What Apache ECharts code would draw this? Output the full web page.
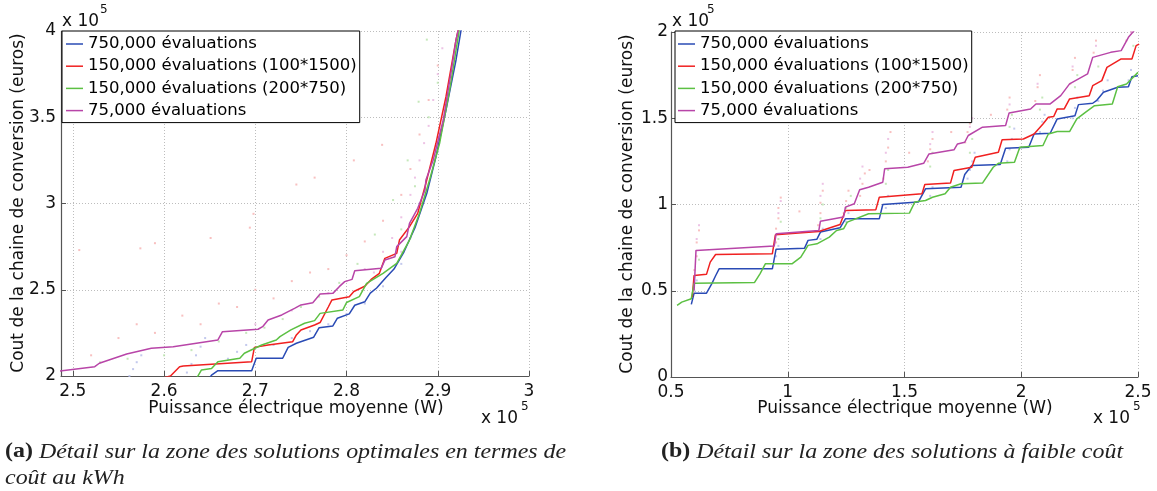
<!DOCTYPE html>
<html><head><meta charset="utf-8">
<script src="https://cdn.jsdelivr.net/npm/echarts@6/dist/echarts.min.js"></script>
<style>html,body{margin:0;padding:0;background:#fff}#c{width:1157px;height:491px}</style>
</head><body><div id="c"></div>
<script>
// ---- names / labels ----
const seriesNames = ['750,000 évaluations','150,000 évaluations (100*1500)','150,000 évaluations (200*750)','75,000 évaluations'];
const xTitle = 'Puissance électrique moyenne (W)';
const yTitle = 'Cout de la chaine de conversion (euros)';
const multText = 'x 10';
const multExp = '5';
const captionA1 = 'Détail sur la zone des solutions optimales en termes de';
const captionA2 = 'coût au kWh';
const captionB = 'Détail sur la zone des solutions à faible coût';

// ---- data (units of 10^5) : chart (a) ----
const aBlue = [[2.650,1.99],[2.652,2.005],[2.659,2.031],[2.696,2.031],[2.701,2.103],[2.730,2.103],[2.736,2.166],[2.745,2.19],[2.764,2.225],[2.770,2.28],[2.785,2.29],[2.790,2.335],[2.803,2.36],[2.809,2.41],[2.820,2.43],[2.826,2.48],[2.833,2.51],[2.843,2.57],[2.852,2.62],[2.863,2.72],[2.875,2.86],[2.888,3.059],[2.898,3.271],[2.909,3.542],[2.920,3.832],[2.926,4.02]];
const aRed = [[2.600,1.99],[2.607,2.0],[2.617,2.054],[2.621,2.058],[2.696,2.083],[2.699,2.166],[2.714,2.180],[2.741,2.199],[2.745,2.238],[2.750,2.267],[2.765,2.296],[2.771,2.31],[2.780,2.40],[2.784,2.441],[2.803,2.460],[2.808,2.49],[2.820,2.52],[2.827,2.56],[2.836,2.595],[2.842,2.682],[2.855,2.711],[2.858,2.788],[2.869,2.866],[2.878,2.943],[2.887,3.117],[2.898,3.349],[2.909,3.619],[2.920,3.948],[2.923,4.02]];
const aGreen = [[2.636,1.99],[2.637,2.0],[2.641,2.035],[2.652,2.044],[2.659,2.083],[2.683,2.103],[2.688,2.132],[2.707,2.180],[2.723,2.209],[2.727,2.228],[2.739,2.267],[2.754,2.306],[2.765,2.321],[2.771,2.363],[2.796,2.383],[2.800,2.426],[2.814,2.460],[2.822,2.537],[2.840,2.595],[2.855,2.653],[2.869,2.788],[2.880,2.943],[2.891,3.136],[2.902,3.349],[2.913,3.658],[2.924,4.02]];
const aMagenta = [[2.485,2.029],[2.524,2.054],[2.529,2.074],[2.559,2.128],[2.586,2.161],[2.610,2.170],[2.612,2.180],[2.659,2.209],[2.664,2.257],[2.703,2.271],[2.708,2.286],[2.714,2.325],[2.729,2.354],[2.743,2.392],[2.750,2.412],[2.763,2.425],[2.771,2.475],[2.785,2.479],[2.792,2.518],[2.798,2.547],[2.806,2.56],[2.809,2.61],[2.838,2.624],[2.842,2.672],[2.853,2.691],[2.855,2.750],[2.866,2.808],[2.869,2.885],[2.878,2.972],[2.886,3.078],[2.887,3.136],[2.895,3.252],[2.906,3.484],[2.915,3.774],[2.920,3.948],[2.923,4.02]];
// faint population dots (a)
const aDotsRed = [[2.507,2.73],[2.574,2.74],[2.590,2.77],[2.651,2.80],[2.694,2.86],[2.698,2.94],[2.745,3.11],[2.765,3.15],[2.808,3.25],[2.839,3.34],[2.52,2.12],[2.55,2.22],[2.57,2.30],[2.59,2.25],[2.62,2.35],[2.64,2.30],[2.66,2.42],[2.68,2.40],[2.70,2.50],[2.72,2.45],[2.74,2.55],[2.76,2.60],[2.78,2.62],[2.80,2.70],[2.82,2.78],[2.84,2.90],[2.86,3.05],[2.87,3.20],[2.88,3.40],[2.89,3.60],[2.90,3.80]];
const aDotsGreen = [[2.888,3.95],[2.879,3.59],[2.867,3.25],[2.851,3.02],[2.831,2.82],[2.812,2.65],[2.792,2.54],[2.77,2.46],[2.75,2.40],[2.73,2.33],[2.71,2.28],[2.69,2.25],[2.66,2.20],[2.63,2.15],[2.60,2.12],[2.56,2.10],[2.53,2.08],[2.86,2.85],[2.875,3.1],[2.89,3.5],[2.90,3.7]];
const aDotsBlue = [[2.562,2.00],[2.566,2.04],[2.570,2.08],[2.575,2.12],[2.625,2.02],[2.630,2.07],[2.635,2.12],[2.640,2.17],[2.645,2.22],[2.67,2.10],[2.68,2.14],[2.69,2.18],[2.72,2.18],[2.74,2.22],[2.76,2.26],[2.78,2.30],[2.80,2.36],[2.82,2.42],[2.84,2.52],[2.86,2.65],[2.87,2.80],[2.88,3.0],[2.90,3.3]];
const aDotsMagenta = [[2.80,2.55],[2.82,2.62],[2.84,2.72],[2.85,2.80],[2.86,2.92],[2.87,3.05],[2.875,3.15],[2.88,3.25],[2.885,3.35],[2.89,3.45],[2.895,3.6],[2.90,3.75],[2.905,3.9],[2.86,2.72],[2.83,2.60],[2.78,2.48],[2.74,2.38],[2.70,2.30]];

// ---- data (units of 10^5) : chart (b) ----
const bBlue = [[0.587,0.421],[0.599,0.486],[0.652,0.486],[0.675,0.541],[0.691,0.587],[0.706,0.627],[0.934,0.627],[0.950,0.741],[1.072,0.747],[1.087,0.792],[1.125,0.799],[1.140,0.840],[1.224,0.865],[1.247,0.917],[1.392,0.917],[1.407,1.000],[1.559,1.014],[1.590,1.091],[1.742,1.100],[1.758,1.174],[1.788,1.226],[1.910,1.232],[1.933,1.326],[2.032,1.332],[2.055,1.409],[2.124,1.413],[2.154,1.496],[2.230,1.515],[2.245,1.579],[2.306,1.587],[2.322,1.602],[2.352,1.651],[2.413,1.680],[2.459,1.683],[2.474,1.741],[2.500,1.747]];
const bRed = [[0.591,0.463],[0.599,0.589],[0.652,0.595],[0.668,0.666],[0.691,0.710],[0.934,0.714],[0.947,0.824],[1.133,0.843],[1.224,0.884],[1.247,0.965],[1.377,0.969],[1.392,1.042],[1.575,1.062],[1.587,1.116],[1.697,1.124],[1.712,1.197],[1.788,1.216],[1.803,1.274],[1.902,1.303],[1.918,1.375],[2.009,1.380],[2.055,1.409],[2.093,1.467],[2.116,1.506],[2.139,1.510],[2.154,1.554],[2.184,1.554],[2.207,1.612],[2.291,1.631],[2.306,1.689],[2.345,1.718],[2.367,1.795],[2.428,1.844],[2.474,1.844],[2.492,1.921],[2.505,1.930]];
const bGreen = [[0.526,0.415],[0.546,0.434],[0.587,0.454],[0.599,0.544],[0.858,0.548],[0.881,0.598],[0.904,0.656],[1.018,0.656],[1.056,0.695],[1.087,0.763],[1.125,0.772],[1.178,0.811],[1.209,0.849],[1.239,0.859],[1.255,0.898],[1.346,0.946],[1.521,0.950],[1.544,1.014],[1.590,1.023],[1.620,1.042],[1.674,1.062],[1.697,1.100],[1.742,1.120],[1.834,1.124],[1.880,1.216],[1.902,1.239],[1.971,1.245],[1.994,1.332],[2.093,1.342],[2.116,1.409],[2.154,1.423],[2.207,1.423],[2.238,1.496],[2.276,1.535],[2.314,1.573],[2.390,1.583],[2.413,1.683],[2.451,1.699],[2.500,1.766]];
const bMagenta = [[0.599,0.502],[0.607,0.734],[0.611,0.737],[0.942,0.759],[0.950,0.830],[1.133,0.849],[1.140,0.903],[1.239,0.927],[1.247,0.985],[1.285,1.004],[1.308,1.085],[1.346,1.100],[1.407,1.129],[1.415,1.207],[1.514,1.216],[1.582,1.239],[1.605,1.293],[1.712,1.317],[1.727,1.351],[1.758,1.361],[1.773,1.400],[1.834,1.448],[1.933,1.458],[1.948,1.531],[2.040,1.554],[2.063,1.583],[2.124,1.583],[2.169,1.631],[2.207,1.699],[2.284,1.757],[2.306,1.853],[2.383,1.882],[2.428,1.892],[2.459,1.969],[2.489,2.017]];
// faint population dots (b)
const bDotsRed = [[0.60,0.62],[0.61,0.70],[0.61,0.78],[0.62,0.85],[0.95,0.78],[0.95,0.86],[0.96,0.92],[0.96,0.98],[0.97,1.04],[1.13,0.88],[1.14,0.95],[1.14,1.01],[1.15,1.08],[1.24,0.95],[1.25,1.02],[1.26,1.08],[1.31,1.05],[1.32,1.12],[1.33,1.18],[1.41,1.15],[1.42,1.25],[1.43,1.33],[1.44,1.42],[1.60,1.25],[1.61,1.32],[1.62,1.38],[1.76,1.36],[1.77,1.42],[1.78,1.47],[1.94,1.55],[1.95,1.62],[2.06,1.60],[2.07,1.68],[2.08,1.75],[2.21,1.70],[2.22,1.78],[2.23,1.85],[2.31,1.88],[2.32,1.95],[2.45,1.95],[2.47,2.0],[1.87,1.52],[1.70,1.42],[1.52,1.30],[1.35,1.20],[1.05,0.96]];
const bDotsGreen = [[0.60,0.58],[0.62,0.68],[0.96,0.80],[0.97,0.90],[1.14,0.92],[1.15,1.00],[1.25,0.98],[1.27,1.05],[1.42,1.12],[1.43,1.20],[1.61,1.22],[1.62,1.30],[1.78,1.30],[1.79,1.38],[1.95,1.45],[1.96,1.52],[2.08,1.55],[2.09,1.62],[2.23,1.68],[2.24,1.75],[2.33,1.80],[2.48,1.92]];
const bDotsBlue = [[0.60,0.50],[0.61,0.56],[0.95,0.70],[0.96,0.76],[1.14,0.80],[1.15,0.86],[1.25,0.90],[1.26,0.95],[1.42,0.98],[1.43,1.05],[1.61,1.05],[1.62,1.10],[1.77,1.15],[1.78,1.20],[1.79,1.25],[1.80,1.30],[1.94,1.25],[1.95,1.32],[1.96,1.38],[1.97,1.44],[2.08,1.42],[2.09,1.48],[2.10,1.52],[2.22,1.50],[2.23,1.56],[2.24,1.62],[2.33,1.60],[2.35,1.66],[2.37,1.72],[2.46,1.72],[2.47,1.78]];
const bDotsMagenta = [[0.61,0.80],[0.62,0.88],[0.96,0.95],[0.97,1.02],[1.14,1.05],[1.15,1.12],[1.31,1.15],[1.32,1.22],[1.42,1.30],[1.43,1.38],[1.61,1.35],[1.62,1.42],[1.78,1.45],[1.79,1.50],[1.95,1.58],[2.07,1.70],[2.22,1.80],[2.32,1.92],[2.47,2.0]];

// ---- styles ----
const lineColors = ['#2a4bb5','#f02020','#5cc043','#b845a8'];
const dotColors = ['#b4bbe8','#f6b0b0','#b6e2a9','#e8b4df'];
const FONT = 'DejaVu Sans';
const AX = '#555';

const chart = echarts.init(document.getElementById('c'), null, {renderer:'canvas', width:1157, height:491});

function xAx(grid, min, max, interval) {
  const o = {type:'value', gridIndex:grid, min:min, max:max,
    axisLine:{show:true, onZero:false, lineStyle:{color:AX, width:1.2}},
    axisTick:{show:true, inside:true, length:5, lineStyle:{color:AX}},
    axisLabel:{margin:7, color:'#111', fontFamily:FONT, fontSize:17, showMinLabel: interval ? true : false},
    splitLine:{show:true, lineStyle:{color:'#bdbdbd', width:1, type:[1,2]}}};
  if (interval) o.interval = interval; else o.splitNumber = 5;
  return o;
}
function yAx(grid, min, max, interval, margin) {
  return {type:'value', gridIndex:grid, min:min, max:max, interval:interval,
    axisLine:{show:true, onZero:false, lineStyle:{color:AX, width:1.2}},
    axisTick:{show:true, inside:true, length:5, lineStyle:{color:AX}},
    axisLabel:{margin:margin, color:'#111', fontFamily:FONT, fontSize:17},
    splitLine:{show:true, lineStyle:{color:'#bdbdbd', width:1, type:[1,2]}}};
}
function lineS(name, gi, data, ci) {
  return {type:'line', name:name, xAxisIndex:gi, yAxisIndex:gi, data:data, showSymbol:false, symbol:'none',
    lineStyle:{color:lineColors[ci], width:1.5}, itemStyle:{color:lineColors[ci]}, z:4, clip:true, animation:false};
}
function dotS(name, gi, data, ci) {
  return {type:'scatter', name:name, xAxisIndex:gi, yAxisIndex:gi, data:data, symbol:'rect', symbolSize:2,
    itemStyle:{color:dotColors[ci]}, silent:true, z:2, clip:true, animation:false};
}
function legendAt(left, padLeft) {
  return {show:true, orient:'vertical', left:left, top:31, data:seriesNames, selectedMode:false,
    icon:'rect', itemWidth:17, itemHeight:1.5, itemGap:4.2, padding:[4,3,3,padLeft],
    backgroundColor:'#fff', borderColor:'#000', borderWidth:1, borderRadius:0,
    textStyle:{fontFamily:FONT, fontSize:16.5, color:'#000', lineHeight:18}};
}
function txt(x, y, s, size, align, extra) {
  return Object.assign({type:'text', x:x, y:y, silent:true, z:10,
    style:{text:s, fill:'#111', font: size + 'px "' + FONT + '"', fontFamily:FONT, fontSize:size,
      textAlign:align, align:align, textVerticalAlign:'middle', verticalAlign:'middle'}}, extra || {});
}
function caption(x, y, label, s, align) {
  const t = label ? '{b|' + label + '}{i| ' + s + '}' : '{i|' + s + '}';
  return {type:'text', x:x, y:y, scaleX:1.14, scaleY:1, silent:true, z:10,
    style:{text:t, fill:'#222', textAlign:align, align:align, textVerticalAlign:'middle', verticalAlign:'middle',
      rich:{b:{fontFamily:'Liberation Serif', fontSize:21, fontWeight:'bold', fill:'#222'},
            i:{fontFamily:'Liberation Serif', fontSize:21, fontStyle:'italic', fill:'#222'}}}};
}

const option = {
  animation:false,
  backgroundColor:'#fff',
  grid:[{left:61, top:31, width:468, height:345},{left:671, top:32, width:467, height:345}],
  xAxis:[xAx(0, 2.487, 3, null), xAx(1, 0.5, 2.5, 0.5)],
  yAxis:[yAx(0, 2, 4, 0.5, 5), yAx(1, 0, 2, 0.5, 3)],
  legend:[legendAt(62, 4), legendAt(675, 3)],
  series:[
    dotS('pop a1',0,aDotsBlue,0), dotS('pop a2',0,aDotsRed,1), dotS('pop a3',0,aDotsGreen,2), dotS('pop a4',0,aDotsMagenta,3),
    lineS(seriesNames[0],0,aBlue,0), lineS(seriesNames[1],0,aRed,1), lineS(seriesNames[2],0,aGreen,2), lineS(seriesNames[3],0,aMagenta,3),
    dotS('pop b1',1,bDotsBlue,0), dotS('pop b2',1,bDotsRed,1), dotS('pop b3',1,bDotsGreen,2), dotS('pop b4',1,bDotsMagenta,3),
    lineS(seriesNames[0],1,bBlue,0), lineS(seriesNames[1],1,bRed,1), lineS(seriesNames[2],1,bGreen,2), lineS(seriesNames[3],1,bMagenta,3)
  ],
  graphic:[
    txt(19, 203, yTitle, 17, 'center', {rotation:Math.PI/2}),
    txt(628, 204, yTitle, 17, 'center', {rotation:Math.PI/2}),
    txt(296, 409, xTitle, 17, 'center'),
    txt(905, 409, xTitle, 17, 'center'),
    txt(62, 22, multText, 17, 'left'), txt(100, 10, multExp, 12, 'left'),
    txt(672, 22, multText, 17, 'left'), txt(707, 10, multExp, 12, 'left'),
    txt(518, 419, multText, 17, 'right'), txt(521, 407, multExp, 12, 'left'),
    txt(1130, 419, multText, 17, 'right'), txt(1133, 407, multExp, 12, 'left'),
    caption(5, 452, '(a)', captionA1, 'left'),
    caption(5, 478, '', captionA2, 'left'),
    caption(892, 452, '(b)', captionB, 'center')
  ]
};
chart.setOption(option);
</script>
</body></html>
